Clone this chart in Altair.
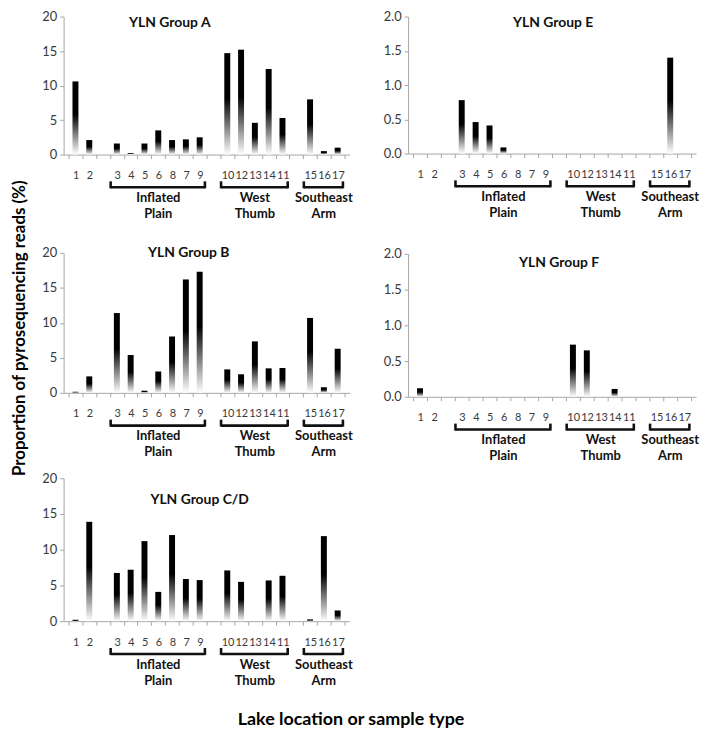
import altair as alt
import pandas as pd

FONT = "Lato"

# ---- categories -------------------------------------------------------
site_groups = [["1", "2"],
               ["3", "4", "5", "6", "8", "7", "9"],
               ["10", "12", "13", "14", "11"],
               ["15", "16", "17"]]
region_names = ["", "Inflated|Plain", "West|Thumb", "Southeast|Arm"]

# ---- values (site order: 1 2 3 4 5 6 8 7 9 10 12 13 14 11 15 16 17) --
group_a = [10.6, 2.1, 1.6, 0.2, 1.6, 3.5, 2.1, 2.2, 2.5, 14.7, 15.2, 4.6, 12.4, 5.3, 8.0, 0.5, 1.0]
group_e = [0, 0, 0.78, 0.46, 0.41, 0.09, 0, 0, 0, 0, 0, 0, 0, 0, 0, 1.40, 0]
group_b = [0.15, 2.35, 11.4, 5.4, 0.3, 3.05, 8.05, 16.2, 17.3, 3.35, 2.65, 7.35, 3.5, 3.55, 10.7, 0.8, 6.3]
group_f = [0.12, 0, 0, 0, 0, 0, 0, 0, 0, 0.73, 0.65, 0, 0.11, 0, 0, 0, 0]
group_cd = [0.2, 13.9, 6.75, 7.2, 11.2, 4.1, 12.05, 5.9, 5.75, 7.1, 5.5, 0, 5.7, 6.35, 0.25, 11.9, 1.5]

left_ticks = [0, 5, 10, 15, 20]
right_ticks = [0, 0.5, 1.0, 1.5, 2.0]

y_title = "Proportion of pyrosequencing reads (%)"
x_title = "Lake location or sample type"

# ---- slot layout (one empty slot between groups) -----------------------
slot_labels = []
site_slot = {}
region_rows = []
slot = 0
for gi, sites in enumerate(site_groups):
    if gi > 0:
        slot_labels.append("")
        slot += 1
    start = slot
    for s in sites:
        slot_labels.append(s)
        site_slot[s] = slot
        slot += 1
    if region_names[gi]:
        region_rows.append({"region": region_names[gi], "start": start, "end": slot})
n_slots = slot
site_order = [s for g in site_groups for s in g]
label_expr = "[" + ",".join("'%s'" % l for l in slot_labels) + "][datum.value] || ''"

gradient = alt.LinearGradient(
    gradient="linear", x1=0, x2=0, y1=0, y2=1,
    stops=[alt.GradientStop(color="#000000", offset=0),
           alt.GradientStop(color="#000000", offset=0.45),
           alt.GradientStop(color="#ffffff", offset=1)])


def panel(values, title, ticks, fmt, width, height, tx, ty, pt, pb, pl, pr):
    df = pd.DataFrame({"site": site_order, "value": values})
    df["pos"] = [site_slot[s] + 0.5 for s in site_order]
    bw = width / n_slots
    xscale = alt.Scale(domain=[0, n_slots], nice=False, zero=False)
    yscale = alt.Scale(domain=[ticks[0], ticks[-1]], nice=False)
    xaxis = alt.Axis(values=list(range(n_slots + 1)), labelExpr=label_expr,
                     labelOffset=bw / 2, labelFlush=False, labelOverlap=False,
                     tickSize=4, labelPadding=11, labelFontSize=11, grid=False,
                     title=None)
    yaxis = alt.Axis(values=ticks, format=fmt, title=None, tickSize=4,
                     labelPadding=3, labelFontSize=13, grid=False)

    def xenc(field):
        return alt.X(field, scale=xscale, axis=xaxis)

    bars = alt.Chart(df).transform_filter("datum.value > 0").mark_bar(
        size=6, color=gradient).encode(
        x=xenc("pos:Q"),
        y=alt.Y("value:Q", scale=yscale, axis=yaxis))

    ttl = alt.Chart(pd.DataFrame({"t": [title]})).mark_text(
        fontSize=14, fontWeight="bold", align="center", baseline="middle",
        color="#111111").encode(text="t:N", x=alt.value(tx), y=alt.value(ty))

    reg = alt.Chart(pd.DataFrame(region_rows)).transform_calculate(
        a="datum.start + 0.05", b="datum.end - 0.12",
        mid="(datum.start + datum.end) / 2")
    hline = reg.mark_rule(strokeWidth=2.6, color="#111111").encode(
        x=xenc("a:Q"), x2="b:Q", y=alt.value(height + 33))
    lend = reg.mark_rule(strokeWidth=2.6, color="#111111").encode(
        x=xenc("a:Q"), y=alt.value(height + 27), y2=alt.value(height + 34))
    rend = reg.mark_rule(strokeWidth=2.6, color="#111111").encode(
        x=xenc("b:Q"), y=alt.value(height + 27), y2=alt.value(height + 34))
    rtext = reg.mark_text(lineBreak="|", lineHeight=16, baseline="top",
                          fontSize=13, fontWeight="bold", color="#111111").encode(
        x=xenc("mid:Q"), y=alt.value(height + 38), text="region:N")

    one = pd.DataFrame({"k": [0]})
    frame_v = alt.Chart(one).mark_rule(opacity=0).encode(
        x=alt.value(width / 2), y=alt.value(-pt), y2=alt.value(height + pb))
    frame_h = alt.Chart(one).mark_rule(opacity=0).encode(
        x=alt.value(-pl), x2=alt.value(width + pr), y=alt.value(height / 2))

    return alt.layer(bars, ttl, hline, lend, rend, rtext, frame_v, frame_h).properties(
        width=width, height=height)


pA = panel(group_a, "YLN Group A", left_ticks, "d", 288, 139, 107, 7, 6, 80, 35, 20)
pB = panel(group_b, "YLN Group B", left_ticks, "d", 288, 141, 126, 0, 19, 75, 35, 20)
pCD = panel(group_cd, "YLN Group C/D", left_ticks, "d", 288, 144, 137, 22, 11, 0, 35, 20)
pE = panel(group_e, "YLN Group E", right_ticks, ".1f", 290, 138, 146, 7, 6, 80, 35, 0)
pF = panel(group_f, "YLN Group F", right_ticks, ".1f", 290, 144, 152, 9, 21, 0, 35, 0)

left_col = alt.vconcat(pA, pB, pCD, spacing=0)
right_col = alt.vconcat(pE, pF, spacing=0)

inner = alt.hconcat(left_col, right_col, spacing=4).properties(
    title=alt.TitleParams(y_title, orient="left", anchor="middle", fontSize=17,
                          fontWeight="bold", color="#000000", offset=0, dx=21))

chart = alt.vconcat(inner).properties(
    title=alt.TitleParams(x_title, orient="bottom", anchor="middle", fontSize=18,
                          fontWeight="bold", color="#000000", offset=24, dx=-4),
    padding={"left": 2, "top": 0, "right": 0, "bottom": 0},
).configure(font=FONT).configure_view(stroke=None).configure_axis(
    domainColor="#a6a6a6", tickColor="#a6a6a6", labelColor="#3a3a3a",
    labelFont=FONT, titleFont=FONT).configure_axisX(labelOverlap=False)

chart.save("out.html", embed_options={"renderer": "svg", "actions": False})
